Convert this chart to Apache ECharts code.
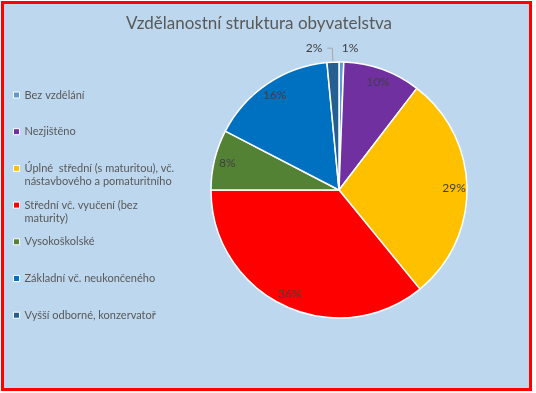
<!DOCTYPE html>
<html><head><meta charset="utf-8">
<script src="https://cdn.jsdelivr.net/npm/echarts@6/dist/echarts.min.js"></script>
<style>
html,body{margin:0;padding:0;background:#fff;width:536px;height:393px;overflow:hidden}
#frame{position:absolute;left:1px;top:1px;width:531px;height:390px;box-sizing:border-box;border:3px solid #FF0000;background:#BDD7EE}
#chart{position:absolute;left:0;top:0;width:536px;height:393px}
</style></head><body>
<div id="frame"></div><div id="chart"></div>
<script>
const titleText = 'Vzdělanostní struktura obyvatelstva';
const categories = ['Bez vzdělání', 'Nezjištěno', 'Úplné  střední (s maturitou), vč. nástavbového a pomaturitního', 'Střední vč. vyučení (bez maturity)', 'Vysokoškolské', 'Základní vč. neukončeného', 'Vyšší odborné, konzervatoř'];
const legendLabels = [['Bez vzdělání'], ['Nezjištěno'], ['Úplné  střední (s maturitou), vč.', 'nástavbového a pomaturitního'], ['Střední vč. vyučení (bez', 'maturity)'], ['Vysokoškolské'], ['Základní vč. neukončeného'], ['Vyšší odborné, konzervatoř']];
const shares = [0.6, 9.8, 28.7, 35.9, 7.6, 15.9, 1.5];
const colors = ['#5B9BD5', '#7030A0', '#FFC000', '#FF0000', '#548235', '#0070C0', '#255E91'];

const FONT = 'Lato';
const pct = p => Math.round(p.percent) + '%';
const small = v => v < 3;

const chart = echarts.init(document.getElementById('chart'), null, {renderer: 'canvas'});
chart.setOption({
  backgroundColor: 'transparent',
  animation: false,
  title: {
    text: titleText, left: 259, top: 15, textAlign: 'center', padding: 0,
    textStyle: {fontFamily: FONT, fontSize: 17, fontWeight: 'normal', color: '#595959'}
  },
  legend: {
    orient: 'vertical', left: 13, top: 75.5, padding: 0,
    itemWidth: 6, itemHeight: 6, itemGap: -2.3, icon: 'rect', selectedMode: false,
    itemStyle: {borderColor: '#ffffff', borderWidth: 1},
    textStyle: {fontFamily: FONT, fontSize: 11, color: '#595959', lineHeight: 13},
    formatter: name => {
      const l = legendLabels[categories.indexOf(name)];
      return '\n' + l[0] + '\n' + (l[1] || '');
    },
    data: categories
  },
  series: [
    {
      type: 'pie', center: [339, 190], radius: 128, startAngle: 90, clockwise: true,
      avoidLabelOverlap: false, emphasis: {disabled: true},
      itemStyle: {borderColor: '#ffffff', borderWidth: 1.5},
      labelLayout: p => (p.dataIndex === 0 ? {dx: -10} : {}),
      data: categories.map((n, i) => ({
        name: n, value: shares[i],
        itemStyle: {color: colors[i]},
        label: {
          show: small(shares[i]), position: 'outside', formatter: pct,
          fontFamily: FONT, fontSize: 12, color: '#404040', distanceToLabelLine: 5
        },
        labelLine: {
          show: small(shares[i]) && i !== 0, length: 14, length2: 5, smooth: false,
          lineStyle: {color: '#A6A6A6', width: 1}
        }
      }))
    },
    {
      type: 'pie', center: [339, 190], radius: [96, 128], startAngle: 90, clockwise: true,
      silent: true, avoidLabelOverlap: false,
      itemStyle: {color: 'rgba(0,0,0,0)', borderWidth: 0},
      data: categories.map((n, i) => ({
        name: n, value: shares[i],
        label: {
          show: !small(shares[i]), position: 'inside', formatter: pct,
          fontFamily: FONT, fontSize: 12, color: '#404040'
        },
        labelLine: {show: false}
      }))
    }
  ]
});
</script>
</body></html>
